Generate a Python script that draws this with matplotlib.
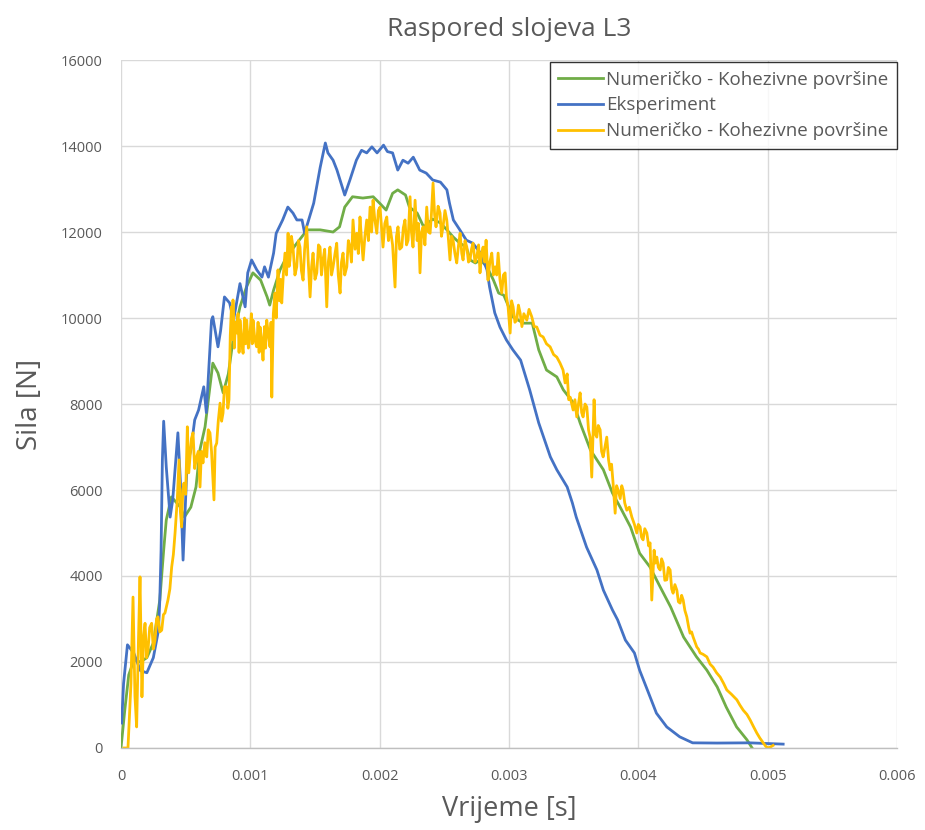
import matplotlib
matplotlib.use("Agg")
import matplotlib.pyplot as plt
import numpy as np
from matplotlib.ticker import FuncFormatter, MultipleLocator

plt.rcParams["font.family"] = ["Open Sans", "DejaVu Sans"]

# time in milliseconds, force in N
green_t = [0, 0.03, 0.06, 0.10, 0.15, 0.20, 0.25, 0.30, 0.33, 0.35, 0.39, 0.46, 0.49,
           0.54, 0.58, 0.61, 0.65, 0.71, 0.75, 0.79, 0.83, 0.87, 0.92, 0.97, 1.02,
           1.08, 1.13, 1.15, 1.18, 1.23, 1.28, 1.36, 1.44, 1.54, 1.64, 1.69, 1.73,
           1.79, 1.87, 1.95, 2.00, 2.05, 2.10, 2.14, 2.20, 2.23, 2.29, 2.34, 2.41,
           2.47, 2.52, 2.57, 2.62, 2.67, 2.70, 2.74, 2.78, 2.83, 2.88, 2.92, 2.96,
           3.03, 3.11, 3.18, 3.23, 3.29, 3.37, 3.42, 3.50, 3.55, 3.63, 3.68, 3.73,
           3.80, 3.86, 3.94, 4.01, 4.09, 4.17, 4.25, 4.35, 4.45, 4.53, 4.61, 4.68,
           4.76, 4.84, 4.88]
green_f = [0, 900, 1700, 2050, 2000, 2100, 2440, 3440, 4600, 5300, 5840, 5600, 5370,
           5600, 6070, 6930, 7470, 8950, 8720, 8260, 8700, 9560, 10260, 10720, 11050,
           10880, 10490, 10300, 10650, 11120, 11420, 11740, 12050, 12050, 12000, 12120, 12580,
           12820, 12790, 12820, 12670, 12510, 12900, 12980, 12860, 12580, 12440, 12120, 12300,
           12210, 12050, 11880, 11740, 11650, 11350, 11280, 11350, 11190, 10880, 10580, 10530,
           10030, 9880, 9880, 9260, 8790, 8630, 8330, 8020, 7560, 6930, 6700, 6470,
           5930, 5600, 5140, 4530, 4210, 3740, 3280, 2580, 2120, 1810, 1420, 950,
           490, 190, 0]

blue_t = [0.005, 0.02, 0.05, 0.10, 0.15, 0.20, 0.25, 0.29, 0.30, 0.31, 0.32, 0.33,
          0.35, 0.38, 0.40, 0.44, 0.46, 0.48, 0.51, 0.54, 0.57, 0.60, 0.64, 0.66,
          0.70, 0.71, 0.75, 0.77, 0.80, 0.84, 0.87, 0.92, 0.96, 0.98, 1.01, 1.05,
          1.09, 1.11, 1.14, 1.18, 1.20, 1.25, 1.29, 1.33, 1.36, 1.40, 1.42, 1.49,
          1.54, 1.58, 1.60, 1.64, 1.67, 1.73, 1.77, 1.82, 1.86, 1.90, 1.94, 1.98,
          2.03, 2.06, 2.10, 2.14, 2.18, 2.22, 2.26, 2.31, 2.36, 2.41, 2.47, 2.52,
          2.54, 2.57, 2.62, 2.67, 2.72, 2.78, 2.83, 2.85, 2.89, 2.93, 2.98, 3.03,
          3.09, 3.16, 3.23, 3.32, 3.37, 3.45, 3.49, 3.52, 3.60, 3.68, 3.73, 3.80,
          3.84, 3.90, 3.97, 4.01, 4.07, 4.14, 4.22, 4.32, 4.42, 4.61, 4.86, 5.12]
blue_f = [580, 1500, 2400, 2200, 1800, 1750, 2100, 2740, 3440, 4600, 6700, 7600,
          6540, 5370, 5770, 7330, 6160, 4370, 6540, 6930, 7630, 7860, 8400, 7800,
          9950, 10030, 9330, 9700, 10490, 10350, 9950, 10800, 10260, 11050, 11350, 11120,
          10950, 11190, 10950, 11510, 11970, 12280, 12580, 12440, 12280, 12280, 11970, 12670,
          13500, 14070, 13840, 13670, 13440, 12860, 13210, 13670, 13900, 13840, 13980, 13840,
          14020, 13870, 13840, 13440, 13670, 13600, 13740, 13440, 13370, 13210, 13160, 12980,
          12670, 12280, 12050, 11810, 11740, 11510, 11120, 10720, 10120, 9790, 9490, 9260,
          9020, 8330, 7560, 6770, 6470, 6070, 5700, 5370, 4670, 4140, 3670, 3210,
          2980, 2510, 2210, 1810, 1350, 810, 490, 260, 120, 115, 120, 90]

yellow_t = [0.023, 0.054, 0.077, 0.093, 0.108, 0.121, 0.135, 0.147, 0.162, 0.175,
            0.186, 0.198, 0.209, 0.222, 0.237, 0.25, 0.263, 0.275, 0.286, 0.30,
            0.315, 0.328, 0.340, 0.352, 0.363, 0.378, 0.392, 0.405, 0.418, 0.435,
            0.449, 0.459, 0.469, 0.478, 0.487, 0.50, 0.513, 0.524, 0.534, 0.545,
            0.557, 0.57, 0.585, 0.598, 0.611, 0.622, 0.634, 0.648, 0.663, 0.675,
            0.688, 0.70, 0.719, 0.728, 0.740, 0.752, 0.766, 0.778, 0.789, 0.80,
            0.817, 0.826, 0.835, 0.845, 0.854, 0.862, 0.866, 0.876, 0.885, 0.895,
            0.905, 0.913, 0.920, 0.932, 0.944, 0.955, 0.963, 0.972, 0.985, 0.998,
            1.008, 1.015, 1.021, 1.035, 1.049, 1.06, 1.068, 1.075, 1.087, 1.098,
            1.11, 1.118, 1.127, 1.14, 1.152, 1.16, 1.166, 1.178, 1.191, 1.20,
            1.214, 1.225, 1.234, 1.243, 1.255, 1.268, 1.28, 1.292, 1.30, 1.307,
            1.318, 1.330, 1.345, 1.359, 1.372, 1.384, 1.395, 1.408, 1.42, 1.436,
            1.448, 1.462, 1.474, 1.485, 1.50, 1.514, 1.527, 1.539, 1.55, 1.562,
            1.575, 1.591, 1.603, 1.616, 1.628, 1.640, 1.655, 1.668, 1.68, 1.694,
            1.705, 1.717, 1.73, 1.746, 1.758, 1.771, 1.782, 1.794, 1.81, 1.823,
            1.835, 1.848, 1.86, 1.872, 1.886, 1.900, 1.913, 1.926, 1.938, 1.949,
            1.962, 1.978, 1.99, 2.003, 2.015, 2.026, 2.04, 2.055, 2.068, 2.080,
            2.10, 2.119, 2.13, 2.142, 2.155, 2.171, 2.183, 2.196, 2.208, 2.220,
            2.235, 2.246, 2.258, 2.274, 2.29, 2.30, 2.312, 2.324, 2.336, 2.35,
            2.364, 2.377, 2.390, 2.40, 2.413, 2.425, 2.436, 2.452, 2.467, 2.478,
            2.490, 2.505, 2.519, 2.53, 2.544, 2.556, 2.568, 2.582, 2.596, 2.61,
            2.622, 2.635, 2.645, 2.66, 2.674, 2.687, 2.699, 2.71, 2.722, 2.737,
            2.751, 2.765, 2.776, 2.788, 2.800, 2.812, 2.823, 2.838, 2.852, 2.867,
            2.88, 2.893, 2.905, 2.916, 2.93, 2.944, 2.957, 2.970, 2.98, 2.993,
            3.009, 3.02, 3.032, 3.046, 3.060, 3.073, 3.086, 3.10, 3.115, 3.138,
            3.155, 3.176, 3.195, 3.215, 3.24, 3.264, 3.29, 3.318, 3.345, 3.370,
            3.395, 3.418, 3.434, 3.45, 3.462, 3.473, 3.485, 3.496, 3.51, 3.524,
            3.537, 3.550, 3.562, 3.573, 3.588, 3.602, 3.615, 3.627, 3.640, 3.658,
            3.668, 3.679, 3.69, 3.705, 3.716, 3.728, 3.742, 3.756, 3.77, 3.782,
            3.793, 3.805, 3.821, 3.832, 3.844, 3.86, 3.872, 3.882, 3.895, 3.911,
            3.93, 3.950, 3.97, 3.988, 4.0, 4.014, 4.025, 4.037, 4.05, 4.066,
            4.08, 4.091, 4.104, 4.122, 4.132, 4.143, 4.155, 4.169, 4.18, 4.192,
            4.205, 4.220, 4.232, 4.246, 4.258, 4.269, 4.283, 4.298, 4.31, 4.323,
            4.335, 4.347, 4.36, 4.375, 4.39, 4.400, 4.412, 4.424, 4.44, 4.452,
            4.465, 4.478, 4.50, 4.530, 4.555, 4.578, 4.605, 4.633, 4.66, 4.684,
            4.72, 4.762, 4.785, 4.811, 4.84, 4.865, 4.89, 4.916, 4.94, 4.966,
            4.985, 5.004, 5.025, 5.042]
yellow_f = [0, 0, 1500, 3510, 1200, 490, 2500, 3980, 1190, 2600,
            2900, 2100, 2280, 2800, 2900, 2300, 2510, 3000, 3050, 2700,
            2740, 3100, 3140, 3300, 3440, 3700, 4210, 4500, 5000, 5770,
            6700, 5500, 5140, 6000, 6160, 5900, 7470, 6400, 6770, 7200,
            7330, 6500, 6770, 6900, 6070, 6900, 6630, 7100, 6770, 7400,
            7330, 6900, 5770, 7000, 7090, 7600, 8020, 7600, 7790, 8400,
            8400, 7900, 8100, 9600, 10260, 9500, 10420, 9300, 9900, 9650,
            10100, 9200, 9950, 9500, 9180, 10000, 9400, 9950, 9300, 9650,
            10100, 9400, 9950, 9500, 9330, 9900, 9200, 9790, 9500, 9020,
            9800, 9300, 9950, 9600, 9330, 9900, 8160, 10100, 10580, 10000,
            11120, 10400, 10900, 10350, 11000, 11510, 11000, 11970, 11200, 11350,
            11900, 11650, 11000, 11190, 11800, 11650, 11100, 10880, 11600, 12120,
            11300, 10490, 11200, 11510, 10900, 11050, 11700, 11650, 11000, 11350,
            11600, 10260, 11300, 11650, 11000, 11190, 11500, 11740, 11000, 10580,
            11300, 11510, 11000, 11190, 11800, 11650, 11300, 12280, 11600, 11970,
            11500, 12350, 11800, 11350, 11900, 12280, 11800, 12580, 12000, 12740,
            12300, 11970, 12500, 12580, 12100, 11650, 12200, 12350, 11800, 12120,
            11700, 10720, 11900, 12120, 11600, 11650, 12100, 12280, 11700, 11810,
            12820, 12000, 11650, 12740, 11800, 12200, 11050, 12000, 12120, 11700,
            12580, 12000, 11970, 12400, 13140, 12400, 12120, 12600, 12440, 11900,
            12120, 12500, 12280, 11900, 11350, 11900, 11810, 11500, 11280, 11700,
            11970, 11500, 11350, 11800, 11650, 11300, 11350, 11600, 11740, 11300,
            11420, 11700, 11050, 11500, 11650, 11300, 11810, 10880, 11300, 11510,
            11000, 11190, 11000, 11510, 10900, 10580, 11000, 11050, 10500, 10260,
            9650, 10400, 10260, 9900, 9950, 10300, 10120, 9800, 10100, 9950,
            10200, 10030, 9800, 9790, 9600, 9560, 9400, 9330, 9150, 9090,
            8950, 8790, 8490, 8700, 8100, 8160, 8000, 7860, 8100, 7700,
            8000, 8260, 7800, 7700, 8000, 7930, 7400, 7230, 6300, 8100,
            7300, 7230, 7500, 7400, 6900, 6770, 7000, 7230, 6700, 6470,
            6600, 6160, 5460, 6100, 6000, 5800, 6100, 6000, 5700, 5530,
            5600, 5370, 5200, 5000, 5200, 5140, 4900, 4840, 5100, 5000,
            4700, 4770, 3440, 4600, 4300, 4440, 4200, 4140, 4400, 4300,
            3900, 3910, 4200, 4140, 3700, 3600, 3800, 3670, 3400, 3370,
            3550, 3440, 3200, 3050, 2800, 2670, 2700, 2580, 2450, 2350,
            2300, 2210, 2180, 2120, 1950, 1880, 1750, 1650, 1500, 1350,
            1250, 1120, 1000, 880, 780, 650, 500, 350, 230, 120,
            40, 0, 30, 60]

labels = ["Numeričko - Kohezivne površine", "Eksperiment",
          "Numeričko - Kohezivne površine"]
colors = ["#70AD47", "#4472C4", "#FFC000"]

fig = plt.figure(figsize=(9.25, 8.3), dpi=100)
ax = fig.add_axes([0.1308, 0.0988, 0.8389, 0.8289])

for t, f, lab, c in [(green_t, green_f, labels[0], colors[0]),
                     (blue_t, blue_f, labels[1], colors[1]),
                     (yellow_t, yellow_f, labels[2], colors[2])]:
    ax.plot(np.array(t) / 1000, f, color=c, linewidth=2.0, label=lab,
            solid_joinstyle="round")

ax.set_xlim(0, 0.006)
ax.set_ylim(0, 16000)
ax.xaxis.set_major_locator(MultipleLocator(0.001))
ax.yaxis.set_major_locator(MultipleLocator(2000))
ax.xaxis.set_major_formatter(FuncFormatter(lambda v, p: "0" if abs(v) < 1e-12 else f"{v:.3f}"))
ax.grid(True, color="#D9D9D9", linewidth=1.0)
ax.set_axisbelow(True)
for side in ["top", "right", "left"]:
    ax.spines[side].set_visible(False)
ax.spines["bottom"].set_color("#BFBFBF")
ax.spines["bottom"].set_linewidth(1.0)
ax.tick_params(axis="y", length=0, labelsize=10.5, colors="#595959", pad=13)
ax.tick_params(axis="x", length=0, labelsize=10.5, colors="#595959", pad=15)

ax.set_title("Raspored slojeva L3", fontsize=19, color="#595959", pad=17)
ax.set_xlabel("Vrijeme [s]", fontsize=19.5, color="#595959", labelpad=8)
ax.set_ylabel("Sila [N]", fontsize=20, color="#595959", labelpad=12)

leg = ax.legend(loc="upper right", bbox_to_anchor=(1.0, 0.997), fontsize=13.5,
                frameon=True, fancybox=False, handlelength=2.4, handletextpad=0.15,
                borderaxespad=0, labelspacing=0.42, borderpad=0.45)
leg.get_frame().set_edgecolor("black")
leg.get_frame().set_linewidth(1.0)
for txt in leg.get_texts():
    txt.set_color("#595959")

fig.savefig("out.png", dpi=100)
